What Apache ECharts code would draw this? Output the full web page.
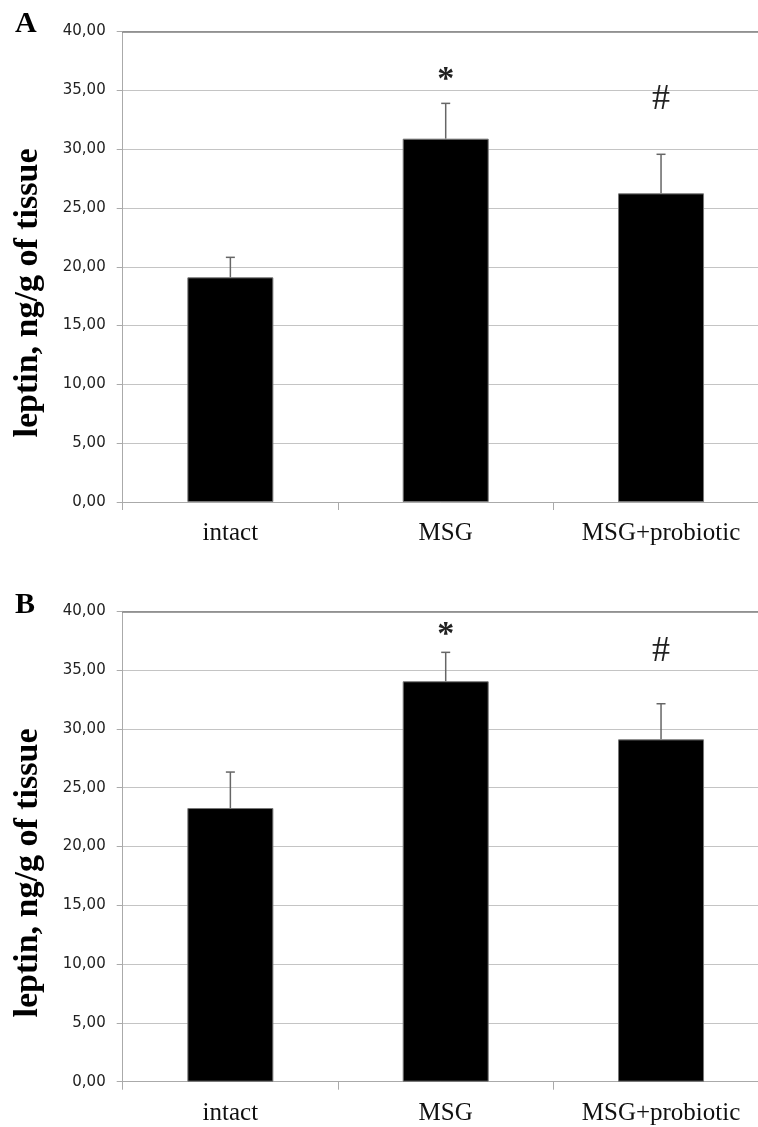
<!DOCTYPE html>
<html>
<head>
<meta charset="utf-8">
<script src="https://cdn.jsdelivr.net/npm/echarts@6/dist/echarts.min.js"></script>
<style>
html,body{margin:0;padding:0;background:#fff;}
#chart{width:758px;height:1127px;}
</style>
</head>
<body>
<div id="chart"></div>
<script>
// ---- data ----
const categories = ['intact', 'MSG', 'MSG+probiotic'];
const leptinA = [19.10, 30.89, 26.24];
const errorA = [1.70, 3.00, 3.32];
const leptinB = [23.27, 34.05, 29.11];
const errorB = [3.06, 2.46, 3.03];
const marksA = ['', '*', '#'];
const markPosA = [null, 36.3, 34.2];
const marksB = ['', '*', '#'];
const markPosB = [null, 38.4, 36.6];
const yMin = 0, yMax = 40, yStep = 5;
const panelLetters = ['A', 'B'];
const yTitle = 'leptin, ng/g of tissue';

const chart = echarts.init(document.getElementById('chart'), null, {renderer: 'canvas'});

const grids = [
  {left: 122.7, top: 31.5, height: 470.5, width: 646, containLabel: false, outerBoundsMode: 'none'},
  {left: 122.7, top: 611.3, height: 470.4, width: 646, containLabel: false, outerBoundsMode: 'none'}
];

function fmt(v) { return v.toFixed(2).replace('.', ','); }

const xAxes = [], yAxes = [], series = [];
[0, 1].forEach(function (g) {
  xAxes.push({
    type: 'category', gridIndex: g, data: categories, position: 'bottom',
    boundaryGap: true,
    axisLine: {show: true, lineStyle: {color: '#aaaaaa', width: 1}},
    axisTick: {show: true, length: 8, lineStyle: {color: '#aaaaaa'}},
    axisLabel: {margin: 19, color: '#111', fontFamily: 'Liberation Serif', fontSize: 25, hideOverlap: false},
    splitLine: {show: false}
  });
  // top border line
  xAxes.push({
    type: 'category', gridIndex: g, data: categories, position: 'top',
    axisLine: {show: true, onZero: false, lineStyle: {color: '#808080', width: 1.5}},
    axisTick: {show: false}, axisLabel: {show: false}, splitLine: {show: false}
  });
  yAxes.push({
    type: 'value', gridIndex: g, min: yMin, max: yMax, interval: yStep,
    axisLine: {show: true, lineStyle: {color: '#aaaaaa', width: 1}},
    axisTick: {show: true, length: 6, lineStyle: {color: '#aaaaaa'}},
    axisLabel: {margin: 17, color: '#222', fontFamily: 'DejaVu Sans', fontSize: 15, formatter: fmt},
    splitLine: {show: true, lineStyle: {color: '#c4c4c4', width: 1.2}}
  });
});

const datasets = [
  {vals: leptinA, errs: errorA, marks: marksA, pos: markPosA},
  {vals: leptinB, errs: errorB, marks: marksB, pos: markPosB}
];

datasets.forEach(function (d, g) {
  const xi = g * 2;
  series.push({
    type: 'bar', xAxisIndex: xi, yAxisIndex: g,
    data: d.vals, barWidth: 86,
    itemStyle: {color: '#000', borderColor: '#777', borderWidth: 1},
    silent: true, z: 2
  });
  series.push({
    type: 'custom', xAxisIndex: xi, yAxisIndex: g, z: 3, silent: true,
    data: d.vals.map(function (v, i) { return [i, v, v + d.errs[i]]; }),
    renderItem: function (params, api) {
      const base = api.coord([api.value(0), api.value(1)]);
      const top = api.coord([api.value(0), api.value(2)]);
      const hw = 4.5;
      return {
        type: 'group',
        children: [
          {type: 'line', shape: {x1: base[0], y1: base[1], x2: top[0], y2: top[1]},
           style: {stroke: '#666', lineWidth: 1.5}},
          {type: 'line', shape: {x1: top[0] - hw, y1: top[1], x2: top[0] + hw, y2: top[1]},
           style: {stroke: '#666', lineWidth: 1.5}}
        ]
      };
    }
  });
  series.push({
    type: 'custom', xAxisIndex: xi, yAxisIndex: g, z: 4, silent: true,
    data: d.pos.map(function (p, i) { return [i, p == null ? 0 : p, d.marks[i]]; }),
    renderItem: function (params, api) {
      const i = params.dataIndex;
      const sym = d.marks[i];
      if (!sym) return null;
      const c = api.coord([api.value(0), api.value(1)]);
      const isStar = sym === '*';
      return {
        type: 'text',
        x: c[0], y: c[1] + (isStar ? 5 : 0),
        style: {
          text: sym, textAlign: 'center', textVerticalAlign: 'middle',
          font: (isStar ? 'bold 34px' : '36px') + ' "Liberation Serif"',
          fill: '#222'
        }
      };
    }
  });
});

const graphic = [
  {type: 'text', x: 15, y: 24, style: {text: panelLetters[0], font: 'bold 30px "Liberation Serif"', fill: '#000', textAlign: 'left', textVerticalAlign: 'middle'}},
  {type: 'text', x: 15, y: 605, style: {text: panelLetters[1], font: 'bold 30px "Liberation Serif"', fill: '#000', textAlign: 'left', textVerticalAlign: 'middle'}},
  {type: 'text', x: 28, y: 293, rotation: Math.PI / 2, style: {text: yTitle, font: 'bold 34px "Liberation Serif"', fill: '#000', textAlign: 'center', textVerticalAlign: 'middle'}},
  {type: 'text', x: 28, y: 873, rotation: Math.PI / 2, style: {text: yTitle, font: 'bold 34px "Liberation Serif"', fill: '#000', textAlign: 'center', textVerticalAlign: 'middle'}}
];

chart.setOption({
  animation: false,
  backgroundColor: '#fff',
  grid: grids,
  xAxis: xAxes,
  yAxis: yAxes,
  series: series,
  graphic: graphic
});
</script>
</body>
</html>
